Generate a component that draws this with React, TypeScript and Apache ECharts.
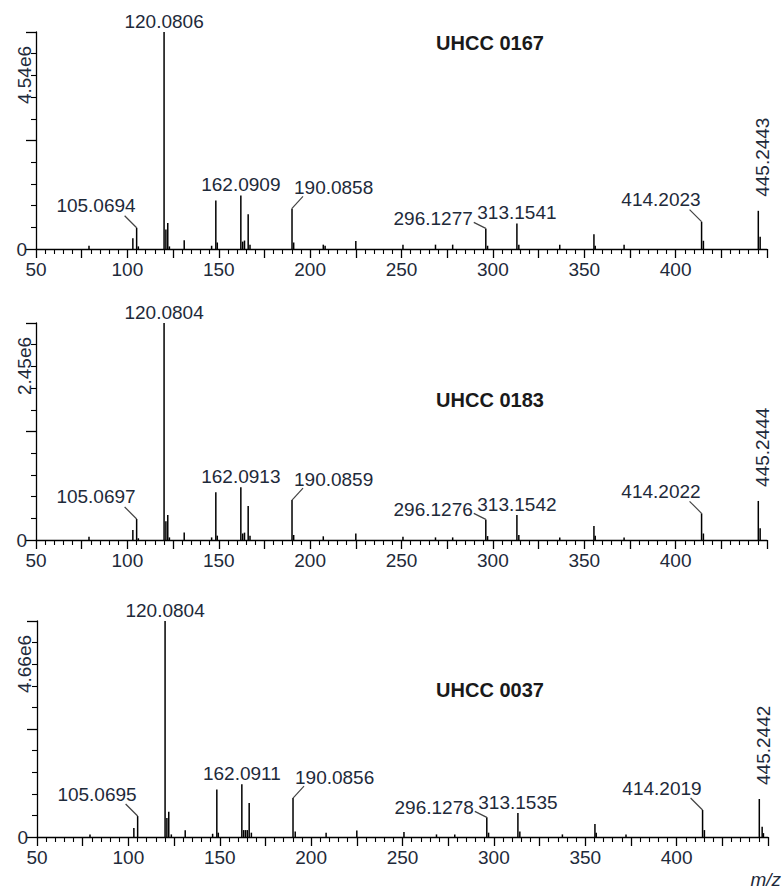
import React, { useEffect, useRef } from 'react';
import * as echarts from 'echarts';

// ---------- data ----------
const PANEL_TITLES = ['UHCC 0167', 'UHCC 0183', 'UHCC 0037'];
const INTENSITY_SCALES = ['4.54e6', '2.45e6', '4.66e6'];
const X_MIN = 50;
const X_MAX = 450;
const X_AXIS_NAME = 'm/z';

// relative intensity (% of base peak)
const MZ_0167 = [79, 103, 105.07, 106, 120.08, 121.08, 122.1, 123, 131.1, 146.1, 148.4, 149.2, 162.09, 163.1, 164.1, 166.1, 167.1, 190.09, 191, 207.2, 208.2, 225, 250.8, 268.6, 278, 296.13, 297.1, 313.15, 314.2, 336.6, 355.3, 356, 371.8, 414.2, 415.2, 445.24, 446.25];
const INT_0167 = [1.5, 5, 9.8, 1.2, 100, 9, 12, 1.2, 4, 1.5, 22.4, 3, 24.6, 3.4, 3.9, 16, 2, 18.7, 3, 2, 1.5, 3.7, 2, 2, 2, 9.5, 1.5, 11.8, 2, 2, 6.8, 1.5, 2, 12.6, 3.8, 17.6, 5.7];

const MZ_0183 = [79, 103, 105.07, 106, 120.08, 121.08, 122.1, 123, 131.1, 146.1, 148.4, 149.2, 162.09, 163.1, 164.1, 166.1, 167.1, 190.09, 191, 207.2, 225, 250.8, 268.6, 278, 296.13, 297.1, 313.15, 314.2, 336.6, 355.3, 356, 371.8, 414.2, 415.2, 445.24, 446.25];
const INT_0183 = [1.5, 4.6, 9.7, 0.8, 100, 8.6, 11.5, 1.2, 3.5, 1.2, 22, 2, 24.3, 3, 3.4, 15.7, 2, 18.4, 2.3, 1.7, 3, 1.5, 1.2, 1.2, 9.5, 1.8, 11.5, 2.3, 1.2, 6.5, 2, 1.2, 12.3, 3, 18, 5.4];

const MZ_0037 = [79, 103, 105.07, 120.08, 121.08, 122.1, 123.5, 131.1, 146.1, 148.4, 149.2, 162.09, 163.1, 164.1, 165.1, 166.1, 167.3, 190.09, 191.3, 208.2, 225, 250.8, 268.6, 278.6, 296.13, 297.1, 313.15, 314.2, 337.5, 355.3, 356, 372.3, 414.2, 415.2, 445.24, 446.8, 447.5];
const INT_0037 = [1.2, 4.2, 9.7, 100, 8.8, 11.7, 1.2, 3.1, 1.5, 22, 2, 24.4, 3.2, 3.2, 3.2, 15.7, 2, 18, 2.5, 2, 3, 2.3, 1.2, 1.2, 9.1, 2, 11.1, 2.5, 1.2, 6, 2, 1.2, 12.5, 3.2, 17.6, 4.8, 1.8];

const LABELS_0167 = ['105.0694', '120.0806', '162.0909', '190.0858', '296.1277', '313.1541', '414.2023', '445.2443'];
const LABELS_0183 = ['105.0697', '120.0804', '162.0913', '190.0859', '296.1276', '313.1542', '414.2022', '445.2444'];
const LABELS_0037 = ['105.0695', '120.0804', '162.0911', '190.0856', '296.1278', '313.1535', '414.2019', '445.2442'];

// ---------- layout / style ----------
const LABEL_PLACEMENT = ['leftLeader', 'above', 'above', 'rightLeader', 'leftShort', 'above', 'leftLeader', 'vertical'];
const GRIDS = [
  { left: 36, top: 32, width: 731, height: 217 },
  { left: 36, top: 323, width: 731, height: 217 },
  { left: 37, top: 621, width: 731, height: 216 },
];
const TITLE_Y = [43, 400, 690];
const FONT = '"Liberation Sans", Arial, sans-serif';
const TEXT_COLOR = '#1e2a3a';

const PANELS = [
  { mz: MZ_0167, int: INT_0167, labels: LABELS_0167 },
  { mz: MZ_0183, int: INT_0183, labels: LABELS_0183 },
  { mz: MZ_0037, int: INT_0037, labels: LABELS_0037 },
];

function nearestIntensity(mz: number[], it: number[], target: number) {
  let best = 0;
  for (let i = 1; i < mz.length; i++) {
    if (Math.abs(mz[i] - target) < Math.abs(mz[best] - target)) best = i;
  }
  return it[best];
}

export default function App() {
  const ref = useRef<HTMLDivElement>(null);
  useEffect(() => {
    document.body.style.margin = '0';
    if (!ref.current) return;
    const chart = echarts.init(ref.current, null, { renderer: 'svg' });

    const grid = GRIDS.map((g) => ({ ...g, containLabel: false }));
    const xAxis = GRIDS.map((_, i) => ({
      type: 'value',
      gridIndex: i,
      min: X_MIN,
      max: X_MAX,
      interval: 25,
      axisLine: { show: true, onZero: false, lineStyle: { color: '#000', width: 1.3 } },
      axisTick: { show: true, length: 9, lineStyle: { color: '#000', width: 1.3 } },
      minorTick: { show: true, splitNumber: 5, length: 5, lineStyle: { color: '#000', width: 1.1 } },
      splitLine: { show: false },
      axisLabel: {
        margin: 11,
        fontSize: 19,
        fontFamily: FONT,
        color: TEXT_COLOR,
        formatter: (v: number) => (v % 50 === 0 && v < X_MAX ? String(v) : ''),
      },
    }));
    const yAxis = GRIDS.map((_, i) => ({
      type: 'value',
      gridIndex: i,
      min: 0,
      max: 100,
      interval: 50,
      axisLine: { show: true, lineStyle: { color: '#000', width: 1.3 } },
      axisTick: { show: true, length: 10, lineStyle: { color: '#000', width: 1.3 } },
      minorTick: { show: true, splitNumber: 5, length: 5, lineStyle: { color: '#000', width: 1.1 } },
      splitLine: { show: false },
      axisLabel: {
        margin: 9,
        fontSize: 19,
        fontFamily: FONT,
        color: TEXT_COLOR,
        formatter: (v: number) => (v === 0 ? '0' : ''),
      },
    }));

    const series: any[] = [];
    PANELS.forEach((p, i) => {
      series.push({
        type: 'custom',
        xAxisIndex: i,
        yAxisIndex: i,
        clip: false,
        data: p.mz.map((m, k) => [m, p.int[k]]),
        encode: { x: 0, y: 1 },
        renderItem: (params: any, api: any) => {
          const x = api.value(0);
          const y = api.value(1);
          const p0 = api.coord([x, 0]);
          const p1 = api.coord([x, y]);
          return {
            type: 'line',
            shape: { x1: p0[0], y1: p0[1], x2: p1[0], y2: p1[1] },
            style: { stroke: '#000', lineWidth: 1.5 },
          };
        },
      });
      const labelData = p.labels.map((t) => {
        const m = parseFloat(t);
        return [m, nearestIntensity(p.mz, p.int, m)];
      });
      series.push({
        type: 'custom',
        xAxisIndex: i,
        yAxisIndex: i,
        clip: false,
        data: labelData,
        encode: { x: 0, y: 1 },
        renderItem: (params: any, api: any) => {
          const idx = params.dataIndex;
          const text = p.labels[idx];
          const kind = LABEL_PLACEMENT[idx];
          const c = api.coord([api.value(0), api.value(1)]);
          const px = c[0];
          const py = c[1];
          const textStyle = (align: string) => ({
            text,
            fontSize: 19,
            fontFamily: FONT,
            fill: TEXT_COLOR,
            align,
            verticalAlign: 'middle',
            textAlign: align,
            textVerticalAlign: 'middle',
          });
          const leader = (dx: number, dy: number) => ({
            type: 'line',
            shape: { x1: px, y1: py, x2: px + dx, y2: py + dy },
            style: { stroke: '#444', lineWidth: 1.2 },
          });
          const children: any[] = [];
          if (kind === 'above') {
            children.push({ type: 'text', x: px, y: py - 11, style: textStyle('center') });
          } else if (kind === 'leftLeader') {
            children.push(leader(-12, -12));
            children.push({ type: 'text', x: px - 1, y: py - 22, style: textStyle('right') });
          } else if (kind === 'rightLeader') {
            children.push(leader(11, -12));
            children.push({ type: 'text', x: px + 2, y: py - 21, style: textStyle('left') });
          } else if (kind === 'leftShort') {
            children.push(leader(-12, -6));
            children.push({ type: 'text', x: px - 13, y: py - 10, style: textStyle('right') });
          } else if (kind === 'vertical') {
            children.push({ type: 'text', x: px + 4, y: py - 14, rotation: Math.PI / 2, style: textStyle('left') });
          }
          return { type: 'group', children };
        },
      });
    });

    const graphic: any[] = [];
    GRIDS.forEach((g, i) => {
      graphic.push({
        type: 'text',
        left: undefined,
        x: 490,
        y: TITLE_Y[i],
        style: {
          text: PANEL_TITLES[i],
          fontSize: 20,
          fontWeight: 'bold',
          fontFamily: FONT,
          fill: '#1a1a1a',
          align: 'center',
          verticalAlign: 'middle',
          textAlign: 'center',
          textVerticalAlign: 'middle',
        },
      });
      graphic.push({
        type: 'text',
        x: 24,
        y: g.top + 43,
        rotation: Math.PI / 2,
        style: {
          text: INTENSITY_SCALES[i],
          fontSize: 19,
          fontFamily: FONT,
          fill: TEXT_COLOR,
          align: 'center',
          verticalAlign: 'middle',
          textAlign: 'center',
          textVerticalAlign: 'middle',
        },
      });
    });
    graphic.push({
      type: 'text',
      x: 781,
      y: 879,
      style: {
        text: X_AXIS_NAME,
        fontSize: 19,
        fontStyle: 'italic',
        fontFamily: FONT,
        fill: TEXT_COLOR,
        align: 'right',
        verticalAlign: 'middle',
        textAlign: 'right',
        textVerticalAlign: 'middle',
      },
    });

    chart.setOption({
      animation: false,
      backgroundColor: '#fff',
      grid,
      xAxis,
      yAxis,
      series,
      graphic,
    });
    return () => chart.dispose();
  }, []);
  return <div ref={ref} style={{ width: 784, height: 889 }} />;
}
